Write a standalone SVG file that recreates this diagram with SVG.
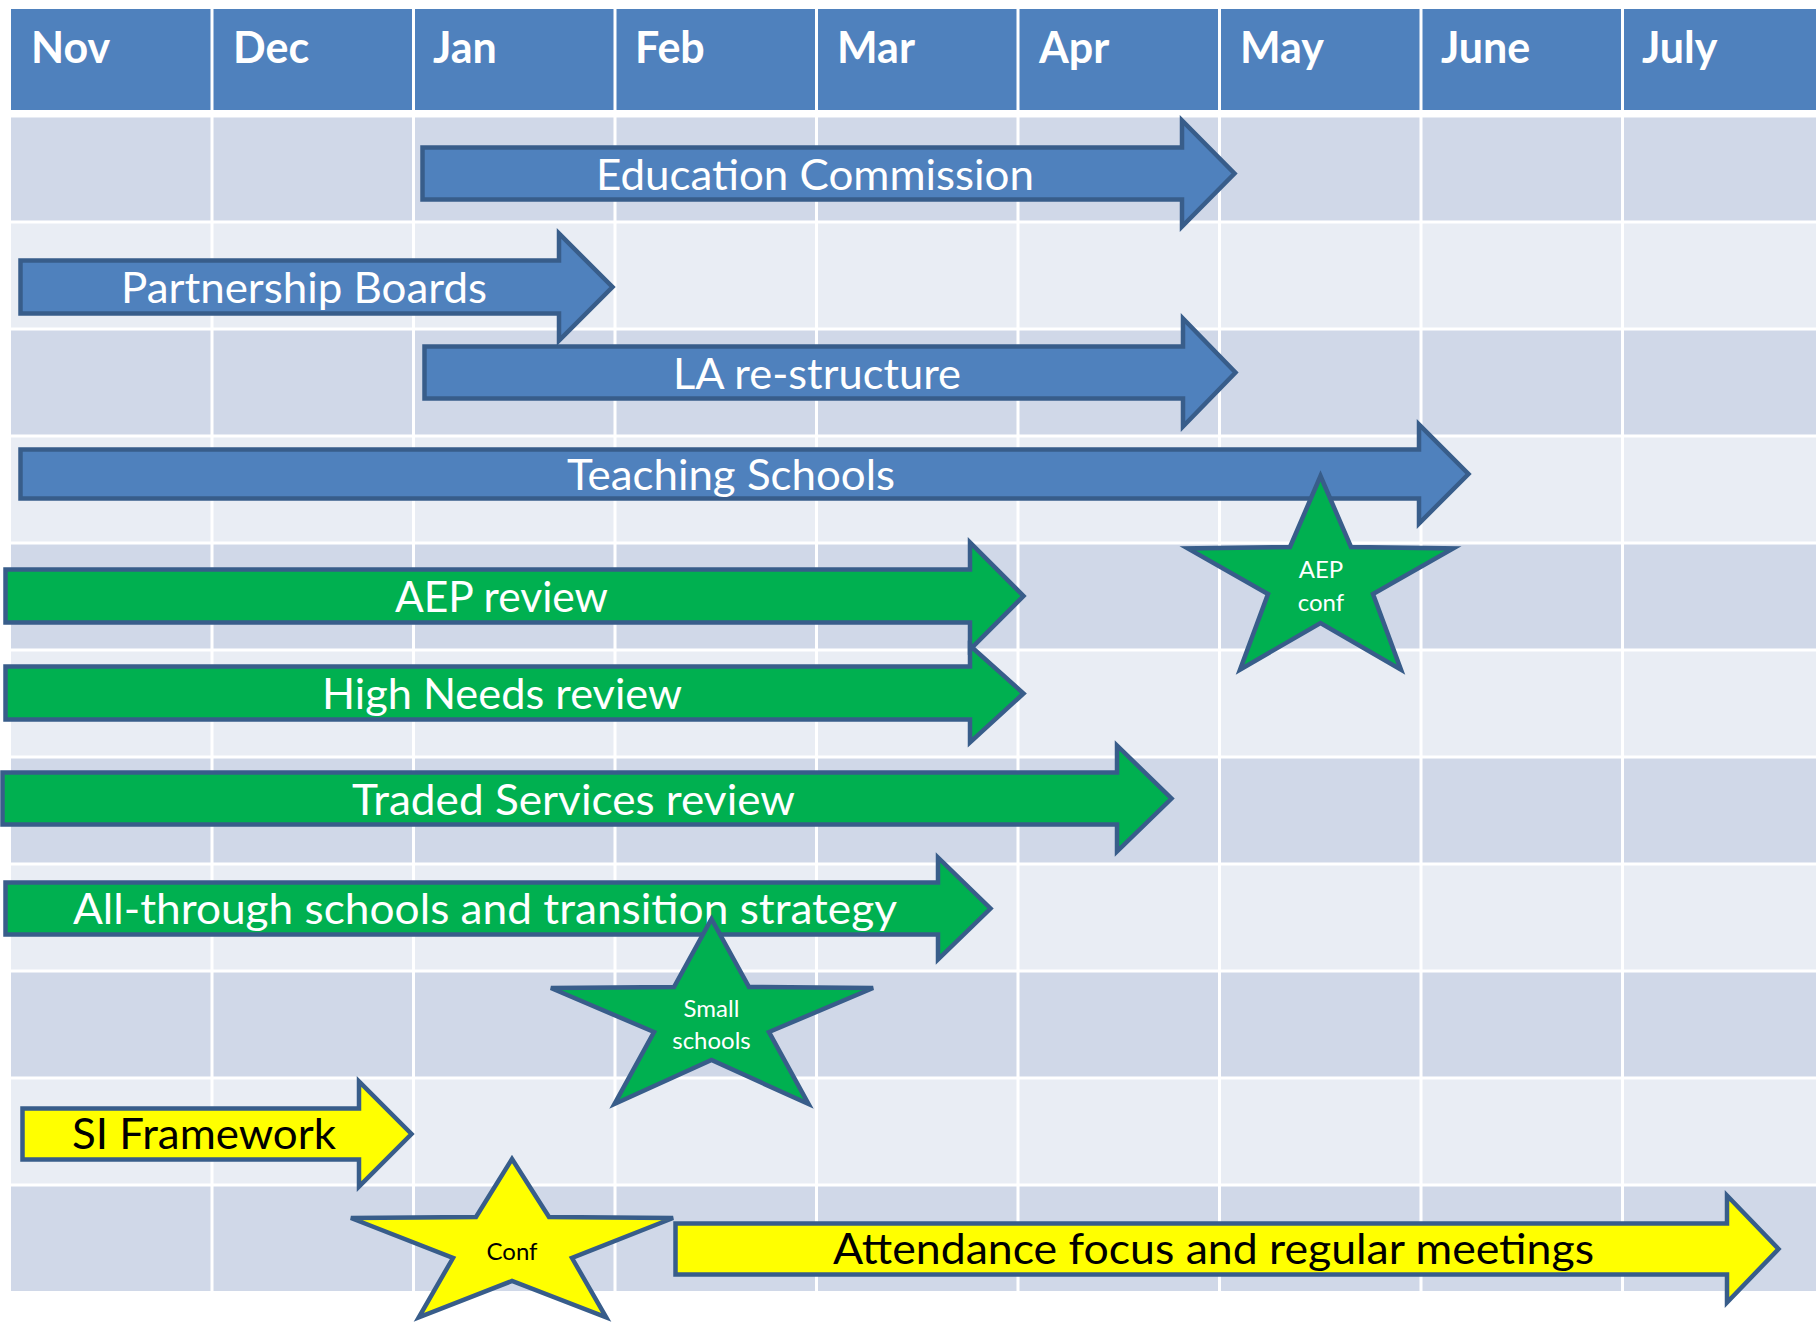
<svg xmlns="http://www.w3.org/2000/svg" width="1816" height="1323" viewBox="0 0 1816 1323">
  <style>
    .hdr { fill: #4F81BD; }
    .band1 { fill: #D0D8E8; }
    .band2 { fill: #E9EDF4; }
    .gridline { stroke: #FFFFFF; stroke-width: 3; fill: none; }
    .month { font-family: Lato, "Open Sans", sans-serif; font-weight: bold; font-size: 43px; fill: #FFFFFF; }
    .shape { stroke: #385D8A; stroke-width: 4.5; stroke-linejoin: miter; }
    .blue { fill: #4F81BD; }
    .green { fill: #00B050; }
    .yellow { fill: #FFFF00; }
    .lbl { font-family: Lato, "Open Sans", sans-serif; font-size: 42px; }
    .star-lbl { font-family: Lato, "Open Sans", sans-serif; font-size: 24px; text-anchor: middle; }
    .w { fill: #FFFFFF; }
    .k { fill: #000000; }
  </style>

  <rect x="0" y="0" width="1816" height="1323" fill="#FFFFFF"/>

  <!-- timeline table: header row and banded body rows -->
  <g id="table">
    <rect class="hdr" x="11" y="9" width="1805" height="101"/>
    <rect class="band1" x="11" y="117.5" width="1805" height="104.5"/>
    <rect class="band2" x="11" y="222" width="1805" height="107"/>
    <rect class="band1" x="11" y="329" width="1805" height="107"/>
    <rect class="band2" x="11" y="436" width="1805" height="107"/>
    <rect class="band1" x="11" y="543" width="1805" height="107"/>
    <rect class="band2" x="11" y="650" width="1805" height="107"/>
    <rect class="band1" x="11" y="757" width="1805" height="107"/>
    <rect class="band2" x="11" y="864" width="1805" height="107"/>
    <rect class="band1" x="11" y="971" width="1805" height="107"/>
    <rect class="band2" x="11" y="1078" width="1805" height="107"/>
    <rect class="band1" x="11" y="1185" width="1805" height="106"/>
    <g class="gridline">
      <path d="M11 222H1816M11 329H1816M11 436H1816M11 543H1816M11 650H1816M11 757H1816M11 864H1816M11 971H1816M11 1078H1816M11 1185H1816"/>
      <path d="M212 9V1291M413.5 9V1291M615 9V1291M816.5 9V1291M1018 9V1291M1219.5 9V1291M1421 9V1291M1622.5 9V1291"/>
    </g>
    <g class="month">
      <text x="31" y="63">Nov</text>
      <text x="233" y="63">Dec</text>
      <text x="433" y="63">Jan</text>
      <text x="635" y="63">Feb</text>
      <text x="837" y="63">Mar</text>
      <text x="1039" y="63">Apr</text>
      <text x="1240" y="63">May</text>
      <text x="1441" y="63">June</text>
      <text x="1642" y="63">July</text>
    </g>
  </g>

  <!-- workstream arrows -->
  <g id="education-commission">
    <polygon class="shape blue" points="422.5,147.5 1182,147.5 1182,120.5 1234.5,173.5 1182,226.5 1182,199.5 422.5,199.5"/>
    <text class="lbl w" x="596" y="190" textLength="438" lengthAdjust="spacingAndGlyphs">Education Commission</text>
  </g>
  <g id="partnership-boards">
    <polygon class="shape blue" points="20.5,260.5 559,260.5 559,233.5 612.5,287 559,340.5 559,313.5 20.5,313.5"/>
    <text class="lbl w" x="121" y="303" textLength="366" lengthAdjust="spacingAndGlyphs">Partnership Boards</text>
  </g>
  <g id="la-restructure">
    <polygon class="shape blue" points="424.5,346.5 1183,346.5 1183,318.5 1235.5,372.5 1183,426.5 1183,398.5 424.5,398.5"/>
    <text class="lbl w" x="673" y="389" textLength="288" lengthAdjust="spacingAndGlyphs">LA re-structure</text>
  </g>
  <g id="teaching-schools">
    <polygon class="shape blue" points="20.5,449.5 1419,449.5 1419,424.5 1468.5,474 1419,523.5 1419,498.5 20.5,498.5"/>
    <text class="lbl w" x="567" y="490" textLength="328" lengthAdjust="spacingAndGlyphs">Teaching Schools</text>
  </g>
  <g id="aep-review">
    <polygon class="shape green" points="5.5,569.5 970,569.5 970,542.5 1023.5,596 970,649.5 970,622.5 5.5,622.5"/>
    <text class="lbl w" x="395" y="612" textLength="213" lengthAdjust="spacingAndGlyphs">AEP review</text>
  </g>
  <g id="high-needs-review">
    <polygon class="shape green" points="5.5,666.5 970,666.5 970,645.5 1023.5,693.5 970,742.5 970,719.5 5.5,719.5"/>
    <text class="lbl w" x="322" y="709" textLength="360" lengthAdjust="spacingAndGlyphs">High Needs review</text>
  </g>
  <g id="traded-services-review">
    <polygon class="shape green" points="2.5,772.5 1117,772.5 1117,745.5 1171.5,798.5 1117,851.5 1117,824.5 2.5,824.5"/>
    <text class="lbl w" x="352" y="815" textLength="443" lengthAdjust="spacingAndGlyphs">Traded Services review</text>
  </g>
  <g id="all-through-schools">
    <polygon class="shape green" points="5.5,882.5 938,882.5 938,857.5 990.5,908.5 938,959.5 938,934.5 5.5,934.5"/>
    <text class="lbl w" x="73" y="924" textLength="824" lengthAdjust="spacingAndGlyphs">All-through schools and transition strategy</text>
  </g>
  <g id="si-framework">
    <polygon class="shape yellow" points="22.5,1108.5 359,1108.5 359,1081.5 411.5,1134 359,1186.5 359,1159.5 22.5,1159.5"/>
    <text class="lbl k" x="72" y="1149" textLength="264" lengthAdjust="spacingAndGlyphs">SI Framework</text>
  </g>
  <g id="attendance-focus">
    <polygon class="shape yellow" points="675.5,1223.5 1727,1223.5 1727,1195.5 1778.5,1249 1727,1302.5 1727,1274.5 675.5,1274.5"/>
    <text class="lbl k" x="833" y="1264" textLength="761" lengthAdjust="spacingAndGlyphs">Attendance focus and regular meetings</text>
  </g>

  <!-- milestone stars -->
  <g id="aep-conf">
    <polygon class="shape green" points="1320.5,476 1351,547 1453.2,548.5 1373,594 1401,669.6 1320.5,623 1240,669.6 1268,594 1187.8,548.5 1290,547"/>
    <text class="star-lbl w" x="1321" y="578">AEP</text>
    <text class="star-lbl w" x="1321" y="611">conf</text>
  </g>
  <g id="small-schools">
    <polygon class="shape green" points="711.5,919 749,987 873.1,988 769,1032 808.5,1104 711.5,1060 614.5,1104 654,1032 550.9,988 674,987"/>
    <text class="star-lbl w" x="711.5" y="1017">Small</text>
    <text class="star-lbl w" x="711.5" y="1049">schools</text>
  </g>
  <g id="conf">
    <polygon class="shape yellow" points="512,1159 549,1217 673.1,1218 572,1258 606.2,1317.3 512,1281 418.8,1317.3 453,1258 350.9,1218 476,1217"/>
    <text class="star-lbl k" x="512" y="1260">Conf</text>
  </g>
</svg>
